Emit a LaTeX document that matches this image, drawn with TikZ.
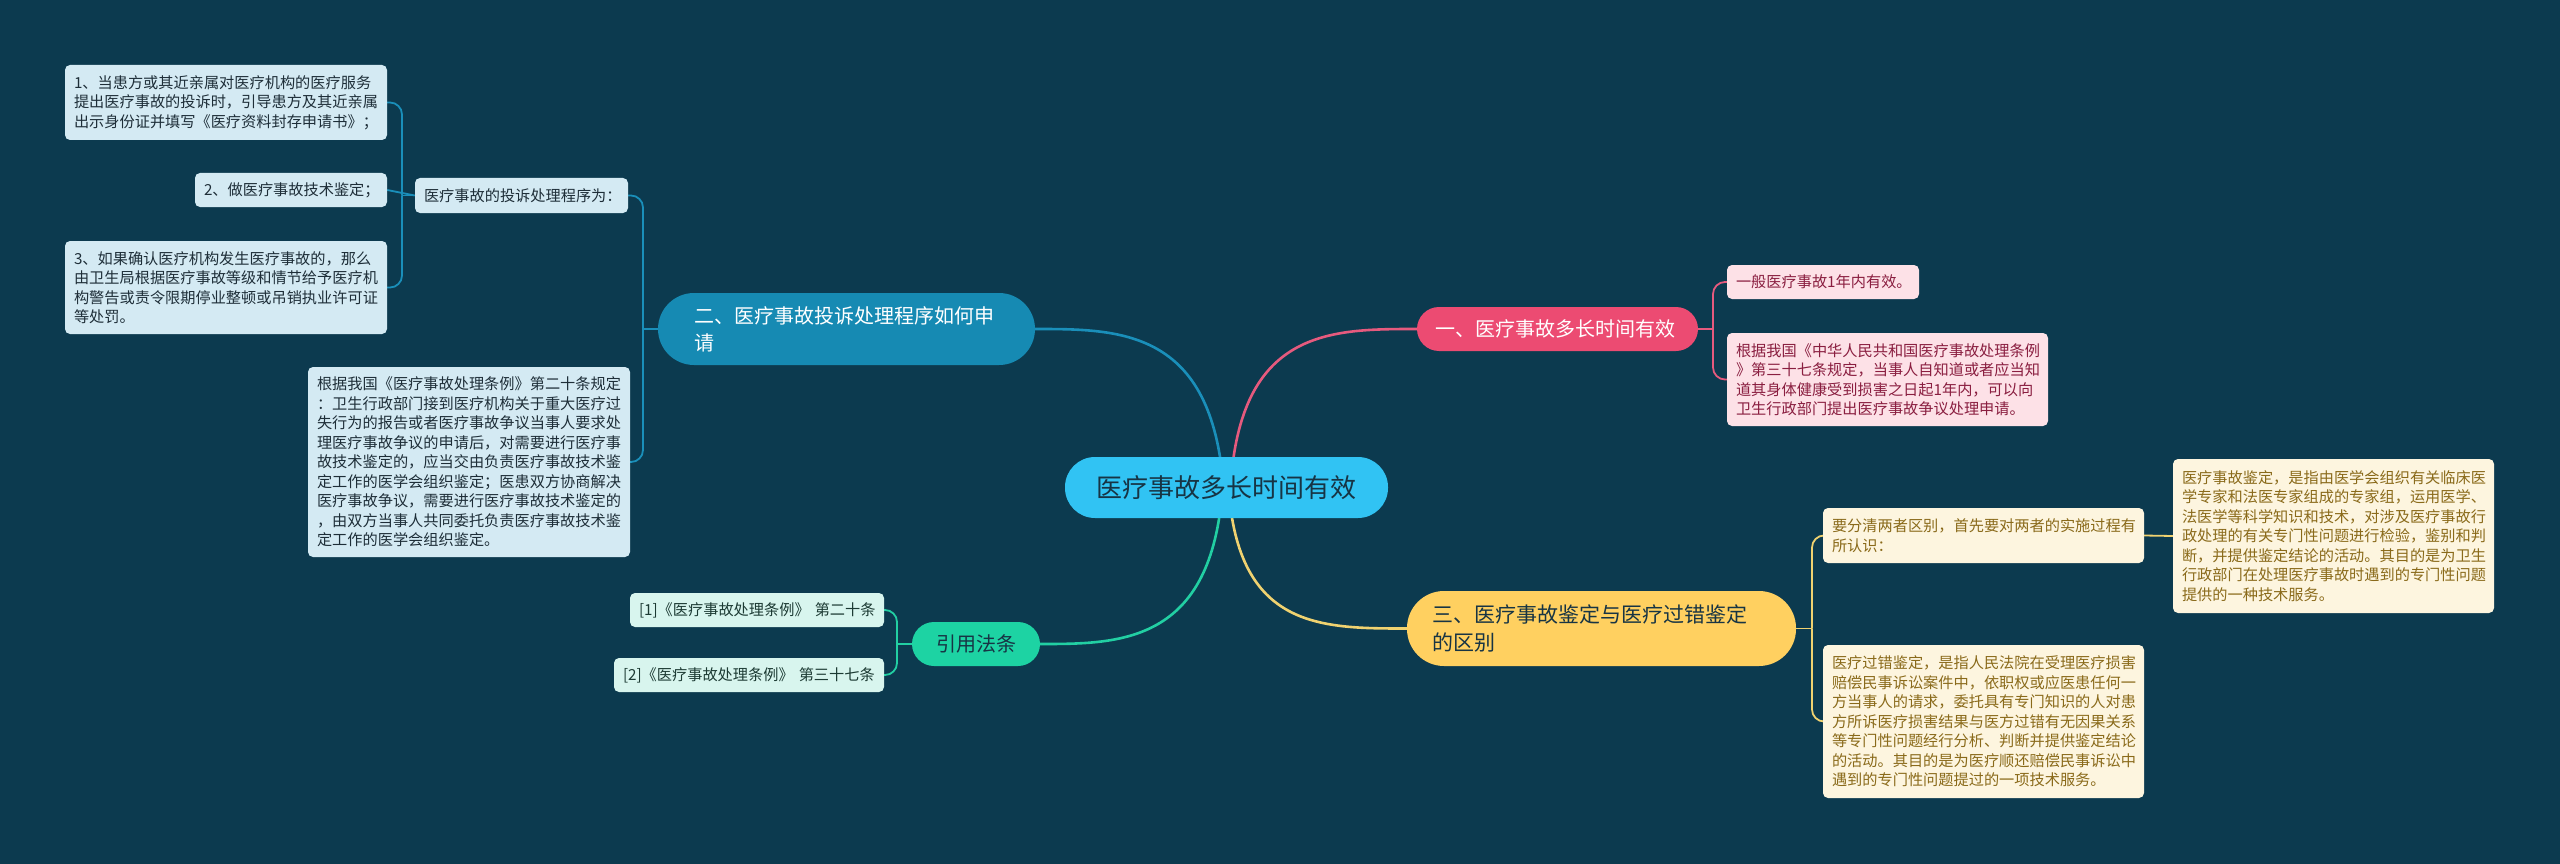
\documentclass[tikz,border=0pt]{standalone}
\usepackage{fontspec}
\setmainfont{Noto Sans CJK SC}
\usetikzlibrary{calc}
\definecolor{bgc}{HTML}{0C3A4F}
\definecolor{cfill}{HTML}{31C3F3}
\definecolor{ctext}{HTML}{173444}
\definecolor{bluef}{HTML}{168AB3}
\definecolor{bluel}{HTML}{1A8FBA}
\definecolor{pinkf}{HTML}{EC4B72}
\definecolor{pinkl}{HTML}{E65A7E}
\definecolor{yellf}{HTML}{FFD060}
\definecolor{yelll}{HTML}{F0D270}
\definecolor{greenf}{HTML}{1DD3A3}
\definecolor{greenl}{HTML}{22CFA3}
\definecolor{bleaff}{HTML}{D4EAF3}
\definecolor{bleaft}{HTML}{1E2E38}
\definecolor{pleaff}{HTML}{FDE1E7}
\definecolor{pleaft}{HTML}{8A1E40}
\definecolor{yleaff}{HTML}{FDF5DF}
\definecolor{yleaft}{HTML}{8A6A1A}
\definecolor{gleaff}{HTML}{D8F5EE}
\definecolor{gleaft}{HTML}{1C3A33}
\pgfdeclarelayer{bglayer}
\pgfdeclarelayer{edges}
\pgfsetlayers{bglayer,edges,main}
\tikzset{
  leaf/.style={rounded corners=5pt, align=left, inner xsep=9pt, inner ysep=0pt,
    font=\fontsize{15.2}{19.5}\selectfont},
  bleaf/.style={leaf, fill=bleaff, text=bleaft},
  pleaf/.style={leaf, fill=pleaff, text=pleaft},
  yleaf/.style={leaf, fill=yleaff, text=yleaft},
  gleaf/.style={leaf, fill=gleaff, text=gleaft},
  branch/.style={align=left, inner ysep=0pt, font=\fontsize{20}{27}\selectfont},
  mainline/.style={line width=2.6pt},
  subline/.style={line width=1.8pt, rounded corners=12pt},
}
\begin{document}
\begin{tikzpicture}[x=1pt,y=-1pt]
\begin{pgfonlayer}{bglayer}
\fill[bgc] (0,0) rectangle (2560,864);
\end{pgfonlayer}
\useasboundingbox (0,0) rectangle (2560,864);

% center
\node[fill=cfill, text=ctext, rounded corners=30pt, minimum width=323pt, minimum height=61pt,
  inner sep=0pt, font=\fontsize{26}{30}\selectfont] (c) at (1226.5,487.5) {医疗事故多长时间有效};

% branches
\node[branch, fill=pinkf, text=white, rounded corners=22pt, text width=245pt, inner xsep=18pt,
  minimum height=44pt] (b1) at (1557.5,329) {一、医疗事故多长时间有效};
\node[branch, fill=bluef, text=white, rounded corners=36pt, text width=305pt, inner xsep=36pt,
  minimum height=72pt] (b2) at (846.5,329) {二、医疗事故投诉处理程序如何申\\请};
\node[branch, fill=yellf, text=ctext, rounded corners=37pt, text width=339pt, inner xsep=25pt,
  minimum height=75pt, font=\fontsize{21}{28}\selectfont] (b3) at (1601.5,628.5) {三、医疗事故鉴定与医疗过错鉴定\\的区别};
\node[branch, fill=greenf, text=ctext, rounded corners=22pt, align=center, inner xsep=0pt,
  minimum width=128pt, minimum height=44pt] (b4) at (976,644) {引用法条};

% blue leaves
\node[bleaf, text width=304pt, minimum height=75pt] (l1a) at (226,102.5)
  {1、当患方或其近亲属对医疗机构的医疗服务\\提出医疗事故的投诉时，引导患方及其近亲属\\出示身份证并填写《医疗资料封存申请书》；};
\node[bleaf, text width=174pt, minimum height=34pt] (l1b) at (291,190) {2、做医疗事故技术鉴定；};
\node[bleaf, text width=195pt, minimum height=35pt] (l1c) at (521.5,195.5) {医疗事故的投诉处理程序为：};
\node[bleaf, text width=304pt, minimum height=93pt] (l1d) at (226,287.5)
  {3、如果确认医疗机构发生医疗事故的，那么\\由卫生局根据医疗事故等级和情节给予医疗机\\构警告或责令限期停业整顿或吊销执业许可证\\等处罚。};
\node[bleaf, text width=304pt, minimum height=190pt] (l1e) at (469,462)
  {根据我国《医疗事故处理条例》第二十条规定\\：卫生行政部门接到医疗机构关于重大医疗过\\失行为的报告或者医疗事故争议当事人要求处\\理医疗事故争议的申请后，对需要进行医疗事\\故技术鉴定的，应当交由负责医疗事故技术鉴\\定工作的医学会组织鉴定；医患双方协商解决\\医疗事故争议，需要进行医疗事故技术鉴定的\\，由双方当事人共同委托负责医疗事故技术鉴\\定工作的医学会组织鉴定。};

% pink leaves
\node[pleaf, text width=174pt, minimum height=34pt] (l2a) at (1823,282) {一般医疗事故1年内有效。};
\node[pleaf, text width=303pt, minimum height=93pt] (l2b) at (1887.5,379.5)
  {根据我国《中华人民共和国医疗事故处理条例\\》第三十七条规定，当事人自知道或者应当知\\道其身体健康受到损害之日起1年内，可以向\\卫生行政部门提出医疗事故争议处理申请。};

% yellow leaves
\node[yleaf, text width=303pt, minimum height=55pt] (l3a) at (1983.5,535.5)
  {要分清两者区别，首先要对两者的实施过程有\\所认识：};
\node[yleaf, text width=303pt, minimum height=154pt] (l3b) at (2333.5,536)
  {医疗事故鉴定，是指由医学会组织有关临床医\\学专家和法医专家组成的专家组，运用医学、\\法医学等科学知识和技术，对涉及医疗事故行\\政处理的有关专门性问题进行检验，鉴别和判\\断，并提供鉴定结论的活动。其目的是为卫生\\行政部门在处理医疗事故时遇到的专门性问题\\提供的一种技术服务。};
\node[yleaf, text width=303pt, minimum height=153pt] (l3c) at (1983.5,721.5)
  {医疗过错鉴定，是指人民法院在受理医疗损害\\赔偿民事诉讼案件中，依职权或应医患任何一\\方当事人的请求，委托具有专门知识的人对患\\方所诉医疗损害结果与医方过错有无因果关系\\等专门性问题经行分析、判断并提供鉴定结论\\的活动。其目的是为医疗顺还赔偿民事诉讼中\\遇到的专门性问题提过的一项技术服务。};

% green leaves
\node[gleaf, text width=236pt, minimum height=34pt] (r1) at (757,610) {\mbox{[1]《医疗事故处理条例》 第二十条}};
\node[gleaf, text width=252pt, minimum height=34pt] (r2) at (749,675) {\mbox{[2]《医疗事故处理条例》 第三十七条}};

\begin{pgfonlayer}{edges}
% main connectors
\draw[mainline, draw=pinkl] ([xshift=4pt]c.center) .. controls (1240,329) and (1330,329) .. (b1.west);
\draw[mainline, draw=bluel] ([xshift=-3pt]c.center) .. controls (1212,329) and (1120,329) .. (b2.east);
\draw[mainline, draw=yelll] ([xshift=2pt]c.center) .. controls (1238,628.5) and (1320,628.5) .. (b3.west);
\draw[mainline, draw=greenl] ([xshift=-4pt]c.center) .. controls (1212,644) and (1120,644) .. (b4.east);

% branch 1
\coordinate (j1) at (1713,329);
\draw[subline, draw=pinkl] (b1.east) -- (j1);
\draw[subline, draw=pinkl] (j1) |- (l2a.west);
\draw[subline, draw=pinkl] (j1) |- (l2b.west);

% branch 2
\coordinate (j2) at (643,329);
\draw[subline, draw=bluel] (b2.west) -- (j2);
\draw[subline, draw=bluel] (j2) |- (l1c.east);
\draw[subline, draw=bluel] (j2) |- (l1e.east);

\coordinate (j2a) at (402,195.5);
\draw[subline, draw=bluel] (l1c.west) -- (j2a);
\draw[subline, draw=bluel] (j2a) |- (l1a.east);
\draw[subline, draw=bluel] (l1b.east) -- (l1c.west);
\draw[subline, draw=bluel] (j2a) |- (l1d.east);

% branch 3
\coordinate (j3) at (1812,628.5);
\draw[subline, draw=yelll] (b3.east) -- (j3);
\draw[subline, draw=yelll] (j3) |- (l3a.west);
\draw[subline, draw=yelll] (j3) |- (l3c.west);
\draw[subline, draw=yelll] (l3a.east) -- (l3b.west);

% branch 4
\coordinate (j4) at (897,644);
\draw[subline, draw=greenl] (b4.west) -- (j4);
\draw[subline, draw=greenl] (j4) |- (r1.east);
\draw[subline, draw=greenl] (j4) |- (r2.east);
\end{pgfonlayer}
\end{tikzpicture}
\end{document}
